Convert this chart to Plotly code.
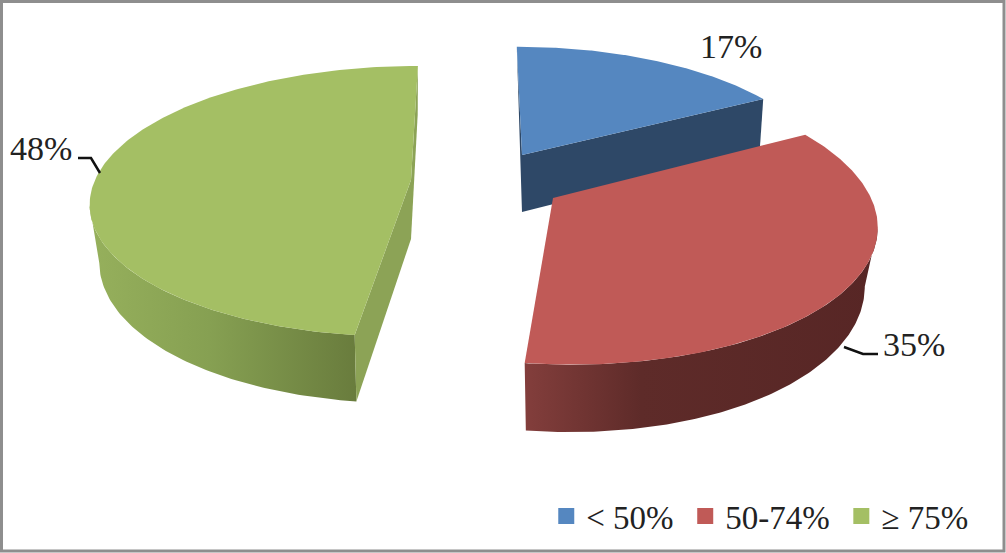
import numpy as np
import plotly.graph_objects as go

categories = ["< 50%", "50-74%", "\u2265 75%"]
values = [17, 35, 48]
top_colors = ["#5587C0", "#C05A57", "#A4BF64"]
cut_colors = ["#2E4867", "#5A2826", "#8CA356"]
wall_stops = [None,
              [[0, "#833E3C"], [0.33, "#5E2B29"], [1, "#572625"]],
              [[0, "#96B05C"], [0.45, "#86A052"], [1, "#697C3D"]]]

# per-slice projection: apex x, apex y, radius x, radius y, skew, perspective, base shrink, depth
apex_x = [522, 553, 411]
apex_y = [155, 198, 180]
radius_x = [299, 318, 316]
radius_y = [125, 141, 132]
skew = [-6, -16, 8]
persp = [0.154, 0.154, 0.157]
shrink = [0.985, 0.96, 0.97]
depth = [57, 57, 56]

label_x = [731, 914, 41]
label_y = [46, 344, 148]
leader_x = [None, [844, 863, 878], [78, 91, 100]]
leader_y = [None, [347, 354, 354], [158, 158, 173]]


def project(i, turn, base=False):
    """Map a pie angle (turns clockwise from 12 o'clock) to picture pixels."""
    X, Y = np.sin(2 * np.pi * turn), np.cos(2 * np.pi * turn)
    w = 1 + persp[i] * Y
    k = shrink[i] if base else 1.0
    down = depth[i] if base else 0.0
    x = apex_x[i] + k * (radius_x[i] * X + skew[i] * Y) / w
    y = apex_y[i] - radius_y[i] * Y / w + down / w
    return x, y


fig = go.Figure()
total = sum(values)
edges = np.cumsum([0] + values) / total


def poly(xs, ys, **kw):
    fig.add_trace(go.Scatter(x=xs, y=ys, mode="lines", fill="toself", line=dict(width=0),
                             hoverinfo="skip", showlegend=False, **kw))


for i in [2, 0, 1]:
    a0, a1 = edges[i], edges[i + 1]
    t = np.linspace(a0, a1, 200)
    tx, ty = project(i, t)
    bx, by = project(i, t, True)
    cx, cy = apex_x[i], apex_y[i]
    d = depth[i]
    if wall_stops[i]:
        # outer wall: only the rim stretch that faces the viewer, up to the silhouette point
        if i == 2:
            tr, br = range(0, int(np.argmin(tx)) + 1), range(0, int(np.argmin(bx)) + 1)
        else:
            tr, br = range(int(np.argmax(tx)), len(t)), range(int(np.argmax(bx)), len(t))
        tr, br = list(tr), list(br)
        poly(np.r_[tx[tr], bx[br][::-1]], np.r_[ty[tr], by[br][::-1]],
             fillgradient=dict(type="horizontal", colorscale=wall_stops[i]))
    sx0, sy0 = project(i, a0)
    sx1, sy1 = project(i, a1)
    bsx0, bsy0 = project(i, a0, True)
    bsx1, bsy1 = project(i, a1, True)
    if i == 0:
        poly([cx, sx1, bsx1, cx], [cy, sy1, bsy1, cy + d], fillcolor=cut_colors[i])
        poly([sx0, cx, cx, sx0], [sy0, cy, cy + d, sy0], fillcolor=cut_colors[i])
    if i == 2:
        poly([sx0, cx, cx, bsx0], [sy0, cy, cy + d + 3, bsy0], fillcolor=cut_colors[i])
        poly([cx, sx1, bsx1, cx], [cy, sy1, bsy1, cy + d + 3], fillcolor=cut_colors[i])
    poly(np.r_[cx, tx, cx], np.r_[cy, ty, cy], fillcolor=top_colors[i])

for i in range(3):
    if leader_x[i]:
        fig.add_trace(go.Scatter(x=leader_x[i], y=leader_y[i], mode="lines",
                                 line=dict(color="#111111", width=2.5), hoverinfo="skip", showlegend=False))
    fig.add_annotation(x=label_x[i], y=label_y[i], text=f"{values[i]}%", showarrow=False,
                       font=dict(family="Liberation Serif", size=34, color="#222222"))
    fig.add_trace(go.Scatter(x=[None], y=[None], mode="markers", name=categories[i] + "\u2009",
                             marker=dict(symbol="square", size=16, color=top_colors[i])))

fig.add_shape(type="rect", xref="x", yref="y", x0=1.5, y0=1.5, x1=1004, y1=551, layer="above",
              line=dict(color="#8E8E8E", width=3))

fig.update_layout(
    width=1006, height=553, margin=dict(l=0, r=0, t=0, b=0),
    paper_bgcolor="white", plot_bgcolor="white",
    xaxis=dict(range=[0, 1006], visible=False, fixedrange=True),
    yaxis=dict(range=[553, 0], visible=False, fixedrange=True),
    showlegend=True,
    legend=dict(orientation="h", x=0.543, y=0.016, xanchor="left", yanchor="bottom",
                font=dict(family="Liberation Serif", size=33, color="#222222"),
                itemsizing="trace", bgcolor="rgba(0,0,0,0)", tracegroupgap=0),
)
fig.write_html("out.html", config={"displayModeBar": False},
               post_script="document.body.style.margin='0';document.body.style.overflow='hidden';")
